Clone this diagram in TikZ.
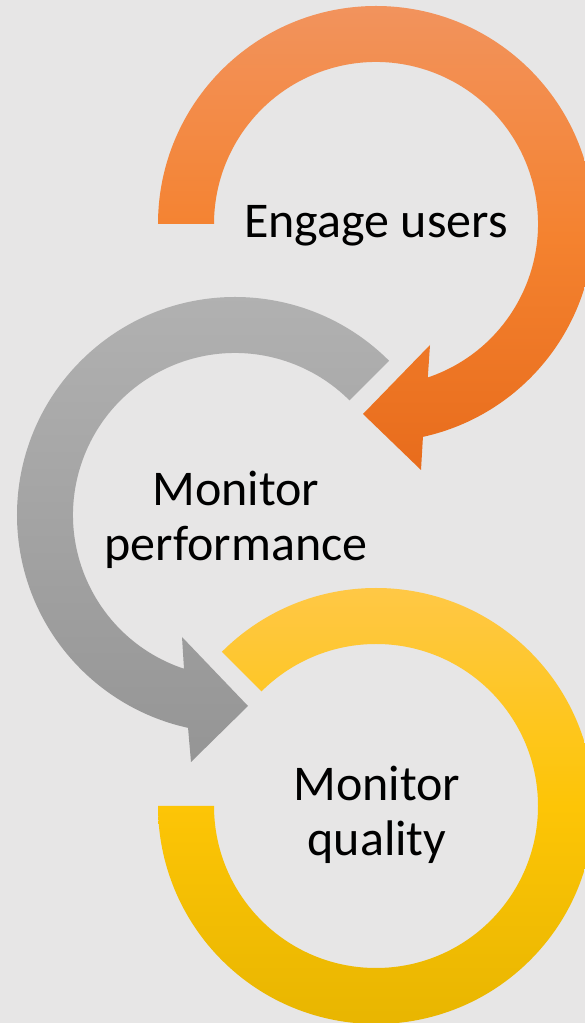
\documentclass[tikz,border=0pt]{standalone}
\usepackage{fontspec}
\setmainfont{Carlito}
\usetikzlibrary{calc}
\definecolor{bg}{HTML}{E7E6E6}
\definecolor{orT}{HTML}{F2935D}
\definecolor{orM}{HTML}{F4822F}
\definecolor{orB}{HTML}{E86C1C}
\definecolor{grT}{HTML}{B2B2B2}
\definecolor{grB}{HTML}{959595}
\definecolor{yeT}{HTML}{FFC84C}
\definecolor{yeM}{HTML}{FDC506}
\definecolor{yeB}{HTML}{E6B400}
\begin{document}
\begin{tikzpicture}[x=1pt,y=1pt,
  ring/.style={draw=none},
  lbl/.style={font=\fontsize{50}{55}\selectfont, align=center, text=black, inner sep=0pt}]
\fill[bg] (0,0) rectangle (585,1023);
\useasboundingbox (0,0) rectangle (585,1023);
% centres
\coordinate (oc) at (376,799);
\coordinate (gc) at (235,508);
\coordinate (yc) at (376,217);
% orange circular arrow
\path[ring, top color=orT, bottom color=orB, middle color=orM]
  ($(oc)+(180:218pt)$) arc[start angle=180, end angle=-77.56, radius=218pt]
  -- (421,553) -- (363,609) -- (430,678) -- ($(oc)+(-71.35:162pt)$)
  arc[start angle=-71.35, end angle=180, radius=162pt] -- cycle;
% gray circular arrow
\path[ring, top color=grT, bottom color=grB]
  ($(gc)+(45:218pt)$) arc[start angle=45, end angle=257.56, radius=218pt]
  -- (191,261) -- (248,317) -- (182,386) -- ($(gc)+(251.65:162pt)$)
  arc[start angle=251.65, end angle=45, radius=162pt] -- cycle;
% yellow ring
\path[ring, top color=yeT, bottom color=yeB, middle color=yeM]
  ($(yc)+(135:218pt)$) arc[start angle=135, end angle=-180, radius=218pt]
  -- ($(yc)+(180:162pt)$)
  arc[start angle=-180, end angle=135, radius=162pt] -- cycle;
% labels
\node[lbl, anchor=base] (engage) at (376,785) {Engage users};
\node[lbl] (perf) at (236,503) {Monitor\\performance};
\node[lbl] (qual) at (377,208) {Monitor\\quality};
\end{tikzpicture}
\end{document}
